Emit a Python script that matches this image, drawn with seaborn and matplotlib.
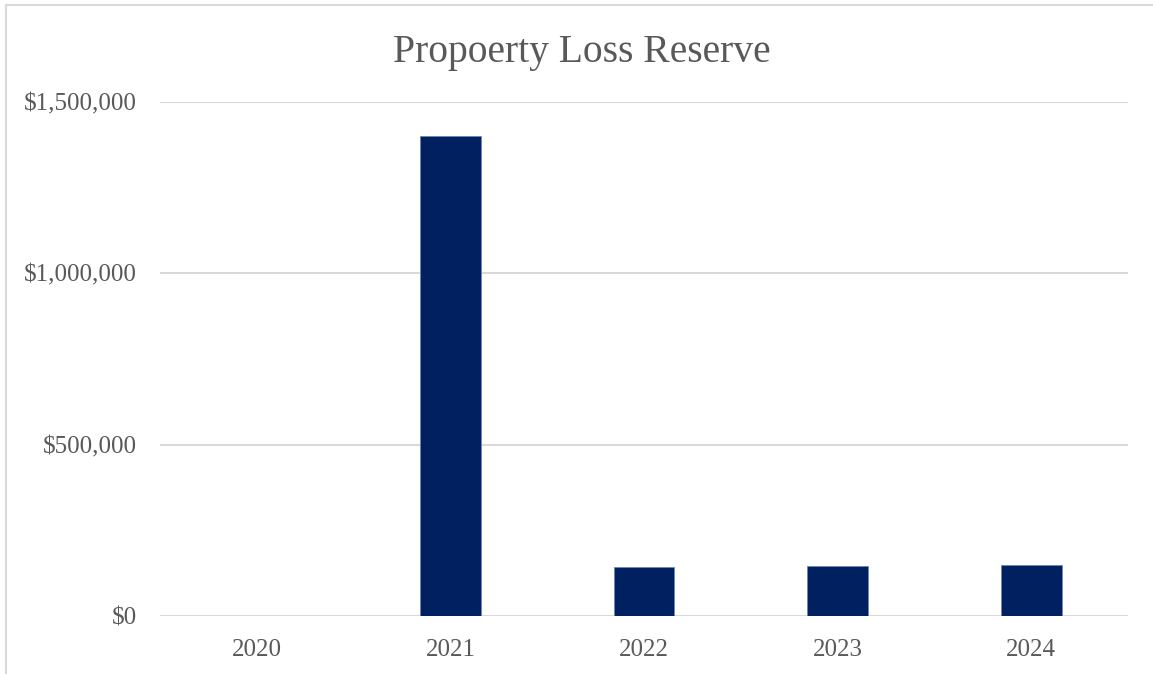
import matplotlib
matplotlib.use("Agg")
import matplotlib.pyplot as plt
from matplotlib.ticker import FuncFormatter, MultipleLocator
from matplotlib.patches import Rectangle
import pandas as pd
import seaborn as sns

years = ["2020", "2021", "2022", "2023", "2024"]
reserve = [0, 1400000, 143000, 146000, 149000]

title = "Propoerty Loss Reserve"
bar_color = "#002060"
text_color = "#595959"
grid_color = "#d9d9d9"

sns.set_theme(style="white")
plt.rcParams["font.family"] = ["Liberation Serif", "DejaVu Serif"]

W, H, DPI = 1153, 674, 100
fig = plt.figure(figsize=(W / DPI, H / DPI), dpi=DPI)
ax = fig.add_axes([160 / W, 1 - 616 / H, (1128 - 160) / W, (616 - 102) / H])

df = pd.DataFrame({"year": years, "reserve": reserve})
sns.barplot(data=df, x="year", y="reserve", color=bar_color, width=0.315,
            saturation=1, ax=ax, edgecolor="#6f86b3", linewidth=0.6)

ax.set_ylim(0, 1500000)
ax.set_xlim(-0.5, len(years) - 0.5)
ax.yaxis.set_major_locator(MultipleLocator(500000))
ax.yaxis.set_major_formatter(FuncFormatter(lambda v, _: f"${v:,.0f}"))
ax.grid(axis="y", color=grid_color, linewidth=1.5)
ax.set_axisbelow(True)
for s in ax.spines.values():
    s.set_visible(False)
ax.tick_params(axis="both", length=0, labelsize=18, labelcolor=text_color)
ax.tick_params(axis="y", pad=16.5)
ax.tick_params(axis="x", pad=16.5)
ax.set_xlabel("")
ax.set_ylabel("")

fig.text(582 / W, 1 - 62 / H, title, ha="center", va="baseline",
         fontsize=28.5, color=text_color)

# chart frame
fig.patches.append(Rectangle((6 / W, -0.05), (W + 20) / W, 1 - 5 / H + 0.05,
                             transform=fig.transFigure, fill=False,
                             edgecolor=grid_color, linewidth=1.5))

fig.savefig("out.png", dpi=DPI, facecolor="white")
